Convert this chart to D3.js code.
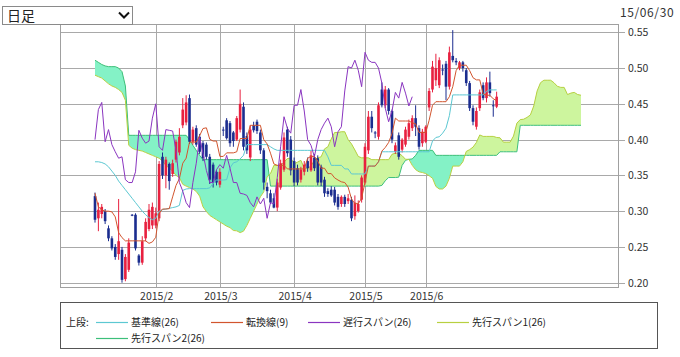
<!DOCTYPE html>
<html><head><meta charset="utf-8">
<script src="https://cdn.jsdelivr.net/npm/d3@7"></script>
<style>
body{margin:0;background:#fff;}
text{font-family:"Noto Sans CJK JP","Noto Sans",sans-serif;}
</style>
</head><body>
<svg id="c" width="680" height="357"></svg>
<script>
// ---- data (daily, Jan-Jun 2015) ----
const opens=[.321,.290,.296,.300,.276,.262,.250,.240,.246,.205,.218,.295,.295,.238,.228,.262,.275,.280,.280,.290,
.376,.350,.366,.352,.372,.382,.420,.424,.458,.397,.416,.404,.395,.393,.376,.365,.355,.337,.414,.427,
.423,.410,.400,.414,.446,.405,.375,.420,.425,.410,.385,.334,.325,.318,.305,.333,.358,.414,.400,.370,
.360,.344,.355,.370,.357,.375,.374,.362,.344,.328,.330,.330,.320,.310,.320,.314,.316,.293,.300,.316,
.340,.385,.432,.410,.404,.470,.448,.470,.440,.383,.406,.386,.393,.404,.416,.430,.416,.395,.397,.445,
.470,.483,.476,.498,.506,.474,.517,.510,.500,.508,.497,.479,.444,.418,.444,.476,.458,.480,.448,.446];
const closes=[.288,.302,.306,.286,.262,.248,.236,.258,.204,.236,.256,.294,.248,.228,.258,.285,.302,.306,.297,.366,
.350,.372,.342,.367,.397,.404,.442,.452,.397,.414,.393,.383,.374,.376,.344,.340,.340,.355,.413,.402,
.395,.398,.430,.450,.390,.385,.414,.413,.412,.385,.340,.328,.312,.305,.340,.367,.403,.381,.357,.340,
.340,.358,.365,.360,.378,.360,.340,.340,.325,.324,.322,.312,.306,.320,.310,.318,.290,.312,.310,.347,
.390,.432,.416,.409,.448,.448,.470,.440,.400,.392,.376,.400,.414,.423,.430,.418,.390,.411,.418,.468,
.502,.500,.511,.497,.474,.522,.511,.508,.508,.500,.479,.444,.425,.440,.466,.458,.480,.465,.447,.460];
const highs=[.326,.312,.310,.303,.280,.265,.254,.317,.250,.240,.262,.296,.297,.240,.265,.290,.310,.312,.305,.370,
.382,.376,.368,.372,.400,.416,.458,.462,.463,.418,.420,.408,.398,.396,.380,.368,.358,.360,.418,.430,
.426,.412,.433,.470,.452,.410,.420,.425,.428,.414,.388,.340,.330,.325,.345,.372,.410,.418,.405,.375,
.365,.362,.370,.375,.385,.380,.378,.365,.348,.332,.335,.334,.324,.322,.323,.324,.320,.322,.315,.350,
.395,.440,.440,.412,.452,.480,.475,.472,.442,.396,.410,.402,.418,.428,.434,.448,.420,.415,.420,.472,
.510,.520,.515,.505,.510,.530,.553,.514,.510,.510,.500,.482,.448,.445,.470,.480,.487,.495,.455,.467];
const lows=[.284,.272,.290,.282,.258,.245,.232,.232,.200,.202,.215,.293,.245,.224,.225,.258,.272,.275,.276,.286,
.345,.332,.330,.348,.368,.378,.416,.420,.394,.393,.390,.380,.370,.372,.338,.333,.336,.333,.405,.400,
.390,.390,.398,.410,.385,.380,.370,.410,.408,.380,.330,.318,.310,.304,.300,.330,.355,.376,.350,.335,
.336,.340,.350,.355,.355,.356,.336,.335,.320,.320,.320,.308,.302,.306,.306,.310,.286,.288,.298,.312,
.337,.380,.410,.402,.400,.445,.444,.435,.395,.380,.372,.382,.390,.400,.412,.405,.386,.390,.395,.440,
.466,.475,.472,.490,.455,.470,.508,.504,.497,.495,.475,.440,.420,.414,.440,.455,.452,.460,.432,.444];
const tenkan=[.325,.306,.302,.300,.300,.299,.292,.270,.263,.2585,
.2585,.2585,.2585,.2585,.2585,.2585,.255,.257,.2635,.297,
.303,.303,.3035,.320,.336,.3455,.367,.374,.3965,.3965,
.3965,.4055,.4155,.4165,.4005,.398,.398,.3765,.3765,.3815,
.3815,.3815,.383,.4015,.4015,.4015,.420,.420,.420,.420,
.400,.394,.381,.366,.364,.364,.364,.359,.359,.359,
.359,.359,.359,.374,.3765,.3765,.370,.360,.360,.3525,
.3525,.3465,.3435,.341,.340,.3335,.317,.3105,.3105,.318,
.3405,.363,.363,.363,.369,.384,.389,.396,.4085,.430,
.426,.426,.426,.426,.4235,.422,.410,.410,.410,.427,
.448,.453,.453,.453,.453,.460,.474,.4965,.504,.504,
.504,.4965,.4865,.4835,.4835,.464,.462,.462,.457,.4545];
const kijun=[.369,.369,.368,.366,.362,.356,.350,.342,.336,.330,
.324,.318,.312,.306,.300,.295,.291,.288,.290,.300,
.302,.303,.304,.305,.306,.308,.329,.331,.3315,.3315,
.3315,.3315,.3315,.3315,.3325,.339,.3435,.3435,.3435,.344,
.3605,.3675,.369,.373,.378,.393,.393,.393,.393,.393,
.393,.393,.390,.387,.385,.385,.385,.385,.385,.385,
.385,.385,.385,.385,.385,.385,.385,.385,.385,.376,
.364,.364,.364,.364,.359,.359,.352,.352,.352,.352,
.352,.363,.363,.363,.369,.383,.383,.383,.383,.383,
.383,.383,.383,.383,.383,.383,.383,.383,.383,.383,
.398,.403,.404,.409,.416,.4335,.4625,.4625,.4625,.4625,
.4625,.4625,.4625,.4625,.4625,.4625,.4675,.4695,.4695,.4695];
const chikou=[.400,.442,.452,.397,.414,.393,.383,.374,.376,.344,.340,.340,.355,.413,.402,.395,.398,.430,.450,.390,
.385,.414,.413,.412,.385,.340,.328,.312,.305,.340,.367,.403,.381,.357,.340,.340,.358,.365,.360,.378,
.360,.340,.340,.325,.324,.322,.312,.306,.320,.310,.318,.290,.312,.310,.347,.390,.432,.416,.409,.448,
.448,.470,.440,.400,.392,.376,.400,.414,.423,.430,.418,.390,.411,.418,.468,.502,.500,.511,.497,.474,
.522,.511,.508,.508,.500,.479,.444,.425,.440,.466,.458,.480,.465,.447,.460];
const spanA=[.490,.488,.486,.482,.478,.475,.473,.470,.466,.455,
.392,.388,.386,.385,.384,.382,.380,.378,.376,.374,
.370,.364,.360,.356,.350,.347,.3375,.335,.333,.331,
.3275,.321,.306,.2995,.294,.291,.288,.285,.282,.279,
.277,.273,.2725,.270,.272,.280,.290,.300,.310,.320,
.327,.348,.3525,.364,.364,.364,.3685,.3735,.374,.3665,
.3685,.371,.360,.360,.363,.371,.3745,.376,.387,.390,
.401,.410,.410,.411,.411,.400,.394,.3855,.3765,.3745,
.3745,.3745,.372,.372,.372,.372,.372,.372,.3795,.381,
.381,.3775,.3725,.3725,.364,.358,.355,.354,.3525,.3495,
.346,.3345,.331,.331,.335,.346,.363,.363,.363,.369,
.3835,.386,.3895,.396,.4065,.4045,.4045,.4045,.4045,.403,
.4025,.3965,.3965,.3965,.405,.423,.428,.4285,.431,.4345,
.447,.468,.4795,.483,.483,.483,.4795,.4745,.473,.473,
.463,.465,.466,.463,.462];
const spanB=[.511,.508,.505,.503,.502,.502,.502,.500,.495,.475,
.406,.406,.406,.406,.406,.406,.406,.406,.406,.406,
.406,.406,.406,.406,.406,.406,.406,.406,.400,.392,
.385,.378,.372,.372,.372,.372,.372,.372,.372,.372,
.372,.372,.372,.372,.372,.372,.372,.372,.372,.372,
.372,.372,.335,.335,.335,.335,.335,.335,.335,.335,
.335,.335,.335,.335,.335,.335,.335,.335,.335,.335,
.335,.335,.335,.335,.335,.335,.335,.335,.335,.335,
.335,.335,.335,.335,.335,.336,.3425,.347,.347,.347,
.3475,.364,.371,.3725,.373,.378,.385,.385,.385,.385,
.385,.378,.378,.378,.378,.378,.378,.378,.378,.378,
.378,.378,.378,.378,.378,.378,.378,.378,.378,.378,
.383,.383,.383,.383,.383,.383,.420,.420,.420,.420,
.420,.420,.420,.420,.420,.420,.420,.420,.420,.420,
.420,.420,.420,.420,.420];
const monthIdx=[18,37,59,80,98];
const monthLabels=["2015/2","2015/3","2015/4","2015/5","2015/6"];
const yTicks=[0.20,0.25,0.30,0.35,0.40,0.45,0.50,0.55];
const legendItems=[
 {label:"基準線(26)",color:"#5cc8d2",x:96,row:0},
 {label:"転換線(9)",color:"#d2552e",x:211,row:0},
 {label:"遅行スパン(26)",color:"#8a35c0",x:308,row:0},
 {label:"先行スパン1(26)",color:"#b8d040",x:437,row:0},
 {label:"先行スパン2(26)",color:"#3cbf7a",x:96,row:1}];

// ---- chart ----
const svg=d3.select("#c");
svg.append("rect").attr("width",680).attr("height",357).attr("fill","#fff");
const L=60,R=619,T=24,B=287;
const x=d3.scaleLinear().domain([0,144]).range([95,581]);
const y=d3.scaleLinear().domain([0.20,0.55]).range([282.7,32.3]);
const gridC="#a9a9a9";

svg.append("g").selectAll("line").data(yTicks).join("line")
 .attr("x1",L).attr("x2",R+6).attr("y1",d=>Math.round(y(d))+0.5).attr("y2",d=>Math.round(y(d))+0.5)
 .attr("stroke",gridC).attr("stroke-width",1);
svg.append("g").selectAll("line").data(monthIdx).join("line")
 .attr("x1",d=>Math.round(x(d))+0.5).attr("x2",d=>Math.round(x(d))+0.5).attr("y1",T).attr("y2",B)
 .attr("stroke",gridC).attr("stroke-width",1);

svg.append("g").selectAll("text").data(yTicks).join("text")
 .attr("x",628).attr("y",d=>y(d)+4).attr("font-size",10.5).attr("fill","#333")
 .text(d=>d.toFixed(2));
svg.append("g").selectAll("text").data(monthIdx).join("text")
 .attr("x",d=>x(d)+1).attr("y",300).attr("text-anchor","middle").attr("font-size",10.5).attr("fill","#333")
 .text((d,i)=>monthLabels[i]);

svg.append("clipPath").attr("id","plotclip").append("rect").attr("x",L).attr("y",T).attr("width",R-L).attr("height",B-T);
const plot=svg.append("g").attr("clip-path","url(#plotclip)");

// cloud
const idx=d3.range(spanA.length);
const defs=svg.append("defs");
defs.append("clipPath").attr("id","aboveA").append("path")
 .attr("d",d3.area().x(i=>x(i)).y0(i=>y(spanA[i])).y1(0)(idx));
defs.append("clipPath").attr("id","aboveB").append("path")
 .attr("d",d3.area().x(i=>x(i)).y0(i=>y(spanB[i])).y1(0)(idx));
const band=d3.area().x(i=>x(i)).y0(i=>y(spanA[i])).y1(i=>y(spanB[i]));
plot.append("path").attr("d",band(idx)).attr("fill","#84f2c6").attr("clip-path","url(#aboveA)");
plot.append("path").attr("d",band(idx)).attr("fill","#cdf59e").attr("clip-path","url(#aboveB)");
const line=arr=>d3.line().x((d,i)=>x(i)).y(d=>y(d))(arr);
plot.append("path").attr("d",line(spanB)).attr("fill","none").attr("stroke","#3cbf7a").attr("stroke-width",1);
plot.append("path").attr("d",line(spanA)).attr("fill","none").attr("stroke","#b8d040").attr("stroke-width",1);

// candles
const cIdx=d3.range(opens.length);
const up="#e8203f", dn="#1b2d8f";
const col=i=>closes[i]>opens[i]?up:dn;
plot.append("g").selectAll("line").data(cIdx).join("line")
 .attr("x1",i=>x(i)).attr("x2",i=>x(i)).attr("y1",i=>y(highs[i])).attr("y2",i=>y(lows[i]))
 .attr("stroke",col).attr("stroke-width",1);
plot.append("g").selectAll("rect").data(cIdx).join("rect")
 .attr("x",i=>x(i)-1.3).attr("width",2.6)
 .attr("y",i=>y(Math.max(opens[i],closes[i])))
 .attr("height",i=>Math.max(1,Math.abs(y(opens[i])-y(closes[i]))))
 .attr("fill",col);

// indicator lines
plot.append("path").attr("d",line(kijun)).attr("fill","none").attr("stroke","#5cc8d2").attr("stroke-width",1);
plot.append("path").attr("d",line(tenkan)).attr("fill","none").attr("stroke","#d2552e").attr("stroke-width",1);
plot.append("path").attr("d",line(chikou)).attr("fill","none").attr("stroke","#8a35c0").attr("stroke-width",1);

// frame
svg.append("rect").attr("x",L+0.5).attr("y",T+0.5).attr("width",R-L-1).attr("height",B-T).attr("fill","none").attr("stroke","#a0a0a0");

// dropdown
svg.append("rect").attr("x",2.5).attr("y",6.5).attr("width",130).attr("height",18).attr("fill","#fff").attr("stroke","#8a8a8a");
svg.append("text").attr("x",7).attr("y",21).attr("font-size",14).attr("fill","#222").text("日足");
svg.append("path").attr("d","M119,12.5 L124,17.5 L129,12.5").attr("fill","none").attr("stroke","#111").attr("stroke-width",2);
// date
svg.append("text").attr("x",620).attr("y",17).attr("font-size",12).attr("letter-spacing",0.6).attr("fill","#333").text("15/06/30");

// legend
svg.append("rect").attr("x",60.5).attr("y",302.5).attr("width",597).attr("height",46).attr("fill","#fff").attr("stroke","#555");
svg.append("text").attr("x",66).attr("y",326).attr("font-size",10).attr("fill","#222").text("上段:");
const lg=svg.append("g").selectAll("g").data(legendItems).join("g")
 .attr("transform",d=>`translate(${d.x},${322+d.row*16})`);
lg.append("line").attr("x1",0).attr("x2",32).attr("y1",0.5).attr("y2",0.5).attr("stroke",d=>d.color).attr("stroke-width",1.2);
lg.append("text").attr("x",35).attr("y",4).attr("font-size",10).attr("fill","#222").text(d=>d.label);
</script>
</body></html>
